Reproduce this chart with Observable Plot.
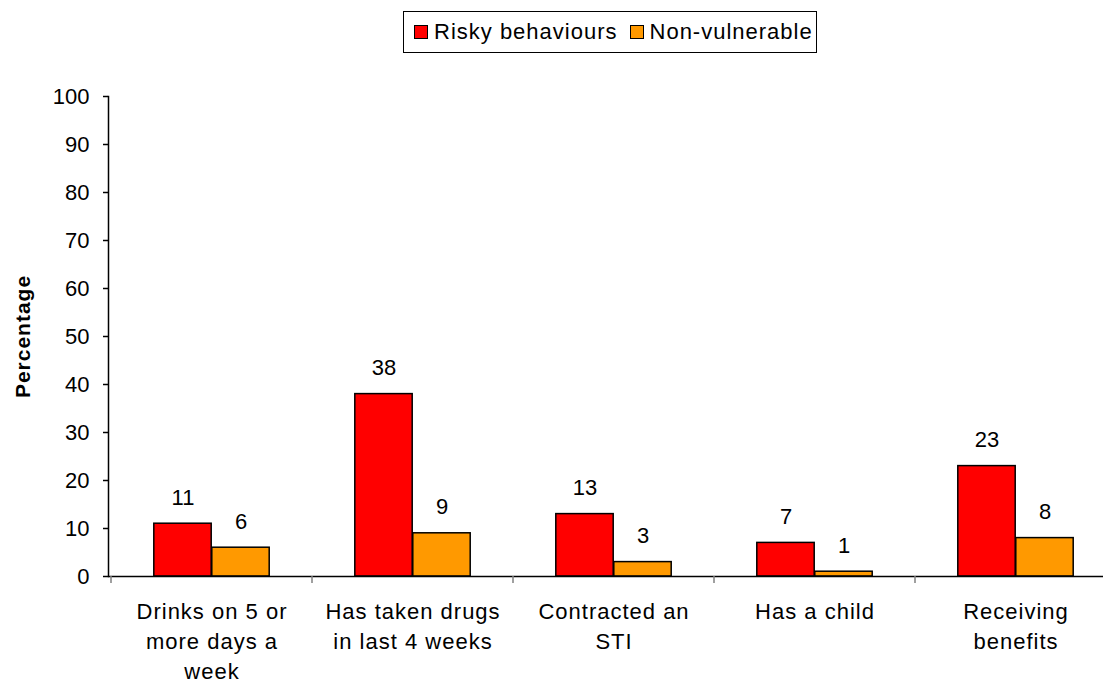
<!DOCTYPE html>
<html><head><meta charset="utf-8">
<script src="https://cdn.jsdelivr.net/npm/d3@7"></script>
<script src="https://cdn.jsdelivr.net/npm/@observablehq/plot@0.6"></script>
<style>
body{margin:0;background:#fff;font-family:"Liberation Sans",Arial,sans-serif;}
#legend{height:60px;position:relative;}
#legend .box{position:absolute;left:403px;top:11px;width:414px;height:42px;border:1px solid #000;box-sizing:border-box;display:flex;align-items:center;font-size:22px;letter-spacing:1px;color:#000;padding-left:10px;white-space:nowrap;}
#legend .sw{display:inline-block;width:14px;height:14px;border:1px solid #000;box-sizing:border-box;}
.xlab text{letter-spacing:1px;}
</style></head>
<body>
<div id="legend"></div>
<div id="chart"></div>
<script>
const categories = ["Drinks on 5 or more days a week","Has taken drugs in last 4 weeks","Contracted an STI","Has a child","Receiving benefits"];
const tickLabels = ["Drinks on 5 or\nmore days a\nweek","Has taken drugs\nin last 4 weeks","Contracted an\nSTI","Has a child","Receiving\nbenefits"];
const seriesNames = ["Risky behaviours","Non-vulnerable"];
const riskyValues = [11,38,13,7,23];
const nonVulnerableValues = [6,9,3,1,8];
const yTicks = [0,10,20,30,40,50,60,70,80,90,100];
const colors = ["#FF0000","#FF9900"];

const data = categories.map((c,i)=>({cat:c, risky:riskyValues[i], non:nonVulnerableValues[i]}));
const labelOf = new Map(categories.map((c,i)=>[c,tickLabels[i]]));

// legend
const box = document.createElement("div"); box.className="box";
seriesNames.forEach((s,i)=>{
  const sw=document.createElement("span"); sw.className="sw"; sw.style.background=colors[i];
  sw.style.marginLeft = i===0 ? "0px" : "12px"; sw.style.marginRight="6px";
  const t=document.createElement("span"); t.textContent=s;
  box.appendChild(sw); box.appendChild(t);
});
document.getElementById("legend").appendChild(box);

const xRange=[109,1117];
const step=(xRange[1]-xRange[0])/categories.length;
const barW=58;

function separators(index, scales){
  const x=scales.x, y=scales.y, y0=y(0);
  const g=d3.create("svg:g");
  for(const c of categories){
    const x0=x(c);
    g.append("line").attr("x1",x0).attr("x2",x0).attr("y1",y0).attr("y2",y0+7)
      .attr("stroke","#808080").attr("stroke-width",1.5);
  }
  return g.node();
}

const chart = Plot.plot({
  width:1103, height:619,
  marginTop:36, marginBottom:103, marginLeft:108, marginRight:0,
  style:{fontFamily:'"Liberation Sans",Arial,sans-serif', fontSize:"22px", color:"#000", background:"#fff"},
  x:{domain:categories, range:xRange, padding:0},
  y:{domain:[0,100]},
  marks:[
    Plot.barY(data,{x:"cat", y:"risky", fill:colors[0], stroke:"#000", strokeWidth:1.5, insetLeft:step/2-barW, insetRight:step/2}),
    Plot.barY(data,{x:"cat", y:"non", fill:colors[1], stroke:"#000", strokeWidth:1.5, insetLeft:step/2, insetRight:step/2-barW}),
    Plot.text(data,{x:"cat", y:"risky", text:"risky", dx:-barW/2, dy:-26, fontSize:22, fill:"#000"}),
    Plot.text(data,{x:"cat", y:"non", text:"non", dx:barW/2, dy:-26, fontSize:22, fill:"#000"}),
    Plot.ruleY([0],{stroke:"#000", strokeWidth:1.5}),
    Plot.frame({anchor:"left", stroke:"#000", strokeWidth:1.5}),
    separators,
    Plot.axisY({ticks:yTicks, tickSize:5, tickPadding:14, fontSize:22, label:null, stroke:"#000", strokeWidth:1.5}),
    Plot.axisX({tickSize:0, tickPadding:21, fontSize:22, lineHeight:1.36, tickFormat:d=>labelOf.get(d), label:null, className:"xlab"}),
    Plot.text(["Percentage"],{frameAnchor:"left", textAnchor:"middle", rotate:-90, dx:-85, fontWeight:"bold", fontSize:21, fill:"#000", className:"ylab"})
  ]
});
chart.querySelectorAll(".ylab text").forEach(t=>t.style.letterSpacing="1px");
document.getElementById("chart").appendChild(chart);
</script>
</body></html>
